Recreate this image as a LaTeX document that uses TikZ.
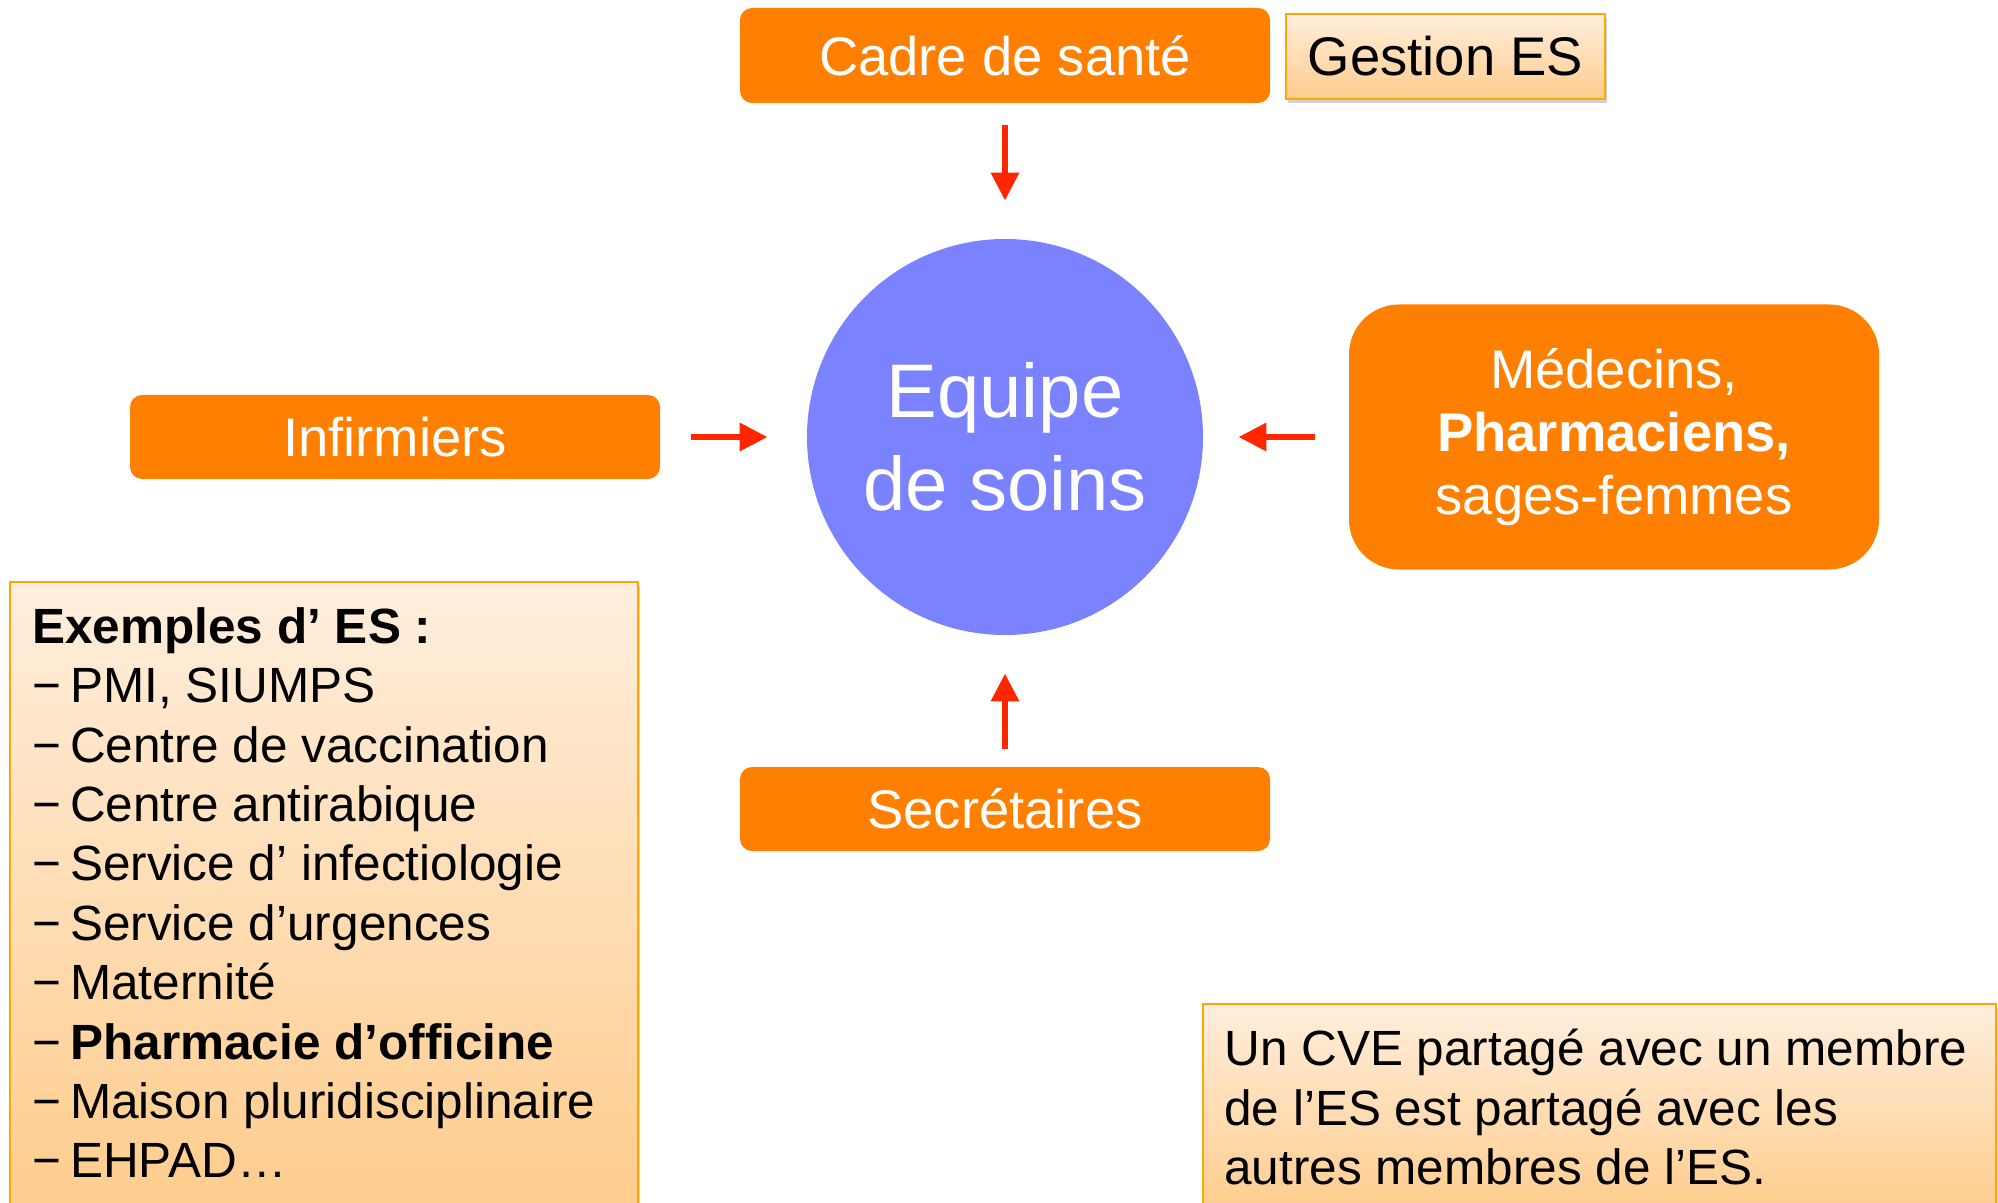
\documentclass[tikz,border=0pt]{standalone}
\usepackage{fontspec}
\setmainfont{Liberation Sans}
\usetikzlibrary{arrows.meta,shadows}

\definecolor{boxorange}{RGB}{255,127,0}
\definecolor{teamblue}{RGB}{122,130,255}
\definecolor{arrowred}{RGB}{255,38,0}
\definecolor{noteedge}{RGB}{252,168,4}
\definecolor{notetop}{RGB}{255,238,221}
\definecolor{notebottom}{RGB}{255,204,140}

\newcommand{\esdash}{−\hspace{0.18em}}

\tikzset{
	rolebox/.style={fill=boxorange, text=white, rounded corners=6pt, minimum width=265pt, minimum height=42pt, inner sep=0pt, font=\fontsize{27.2}{33}\selectfont},
	oneline/.style={execute at begin node={\lower1.5pt\hbox\bgroup}, execute at end node={\egroup}},
	notebox/.style={draw=noteedge, line width=1.2pt, top color=notetop, bottom color=notebottom},
	noteshadow/.style={drop shadow={opacity=0.35, shadow xshift=1pt, shadow yshift=-2pt}},
	flow/.style={-{Triangle[length=14pt,width=13.5pt]}, line width=3.2pt, color=arrowred},
	listtext/.style={anchor=north west, align=left, inner sep=0pt, font=\fontsize{24.75}{29.7}\selectfont},
}

\begin{document}
\begin{tikzpicture}[x=0.5pt, y=-0.5pt]
			%%%%% START %%%%%
			\clip (0, 0) rectangle (1998, 1203);
			
			\node[circle, fill=teamblue, text=white, minimum size=198pt, align=center, font=\fontsize{38}{46.5}\selectfont] (equipe) at (1005, 437) {\raisebox{-2.5pt}{Equipe}\\\raisebox{-2.5pt}{de soins}};
			
			\node[rolebox, oneline, minimum height=47.5pt] (cadre) at (1005, 55.5) {Cadre de santé};
			\node[rolebox, oneline] (infirmiers) at (395, 437) {Infirmiers};
			\node[rolebox, minimum height=132.5pt, rounded corners=25pt, align=center, font=\fontsize{27.2}{31.5}\selectfont] (medecins) at (1614, 437) {\raisebox{-4pt}{Médecins,}\\\raisebox{-4pt}{\textbf{Pharmaciens,}}\\\raisebox{-4pt}{sages-femmes}};
			\node[rolebox, oneline] (secretaires) at (1005, 809) {Secrétaires};
			
			\node[notebox, noteshadow, oneline, minimum width=159.5pt, minimum height=42.5pt, inner sep=0pt, font=\fontsize{27.2}{33}\selectfont] (gestion) at (1445.5, 56.5) {Gestion ES};
			
			\draw[flow, shorten <=11pt, shorten >=19pt] (cadre) -- (equipe);
			\draw[flow, shorten <=15.5pt, shorten >=19.5pt] (infirmiers) -- (equipe);
			\draw[flow, shorten <=17pt, shorten >=17.5pt] (medecins) -- (equipe);
			\draw[flow, shorten <=9pt, shorten >=19pt] (secretaires) -- (equipe);
			
			\path[notebox, noteshadow] (10, 582) rectangle (638, 1215);
			\node[listtext] (exemples) at (32, 607) {\textbf{Exemples d’ ES :}\\\esdash PMI, SIUMPS\\\esdash Centre de vaccination\\\esdash Centre antirabique\\\esdash Service d’ infectiologie\\\esdash Service d’urgences\\\esdash Maternité\\\esdash \textbf{Pharmacie d’officine}\\\esdash Maison pluridisciplinaire\\\esdash EHPAD…};
			
			\path[notebox, noteshadow] (1203, 1004) rectangle (1996, 1215);
			\node[listtext] (cve) at (1224, 1029) {Un CVE partagé avec un membre\\de l’ES est partagé avec les\\autres membres de l’ES.};
			%%%%% END %%%%%
\end{tikzpicture}
\end{document}
